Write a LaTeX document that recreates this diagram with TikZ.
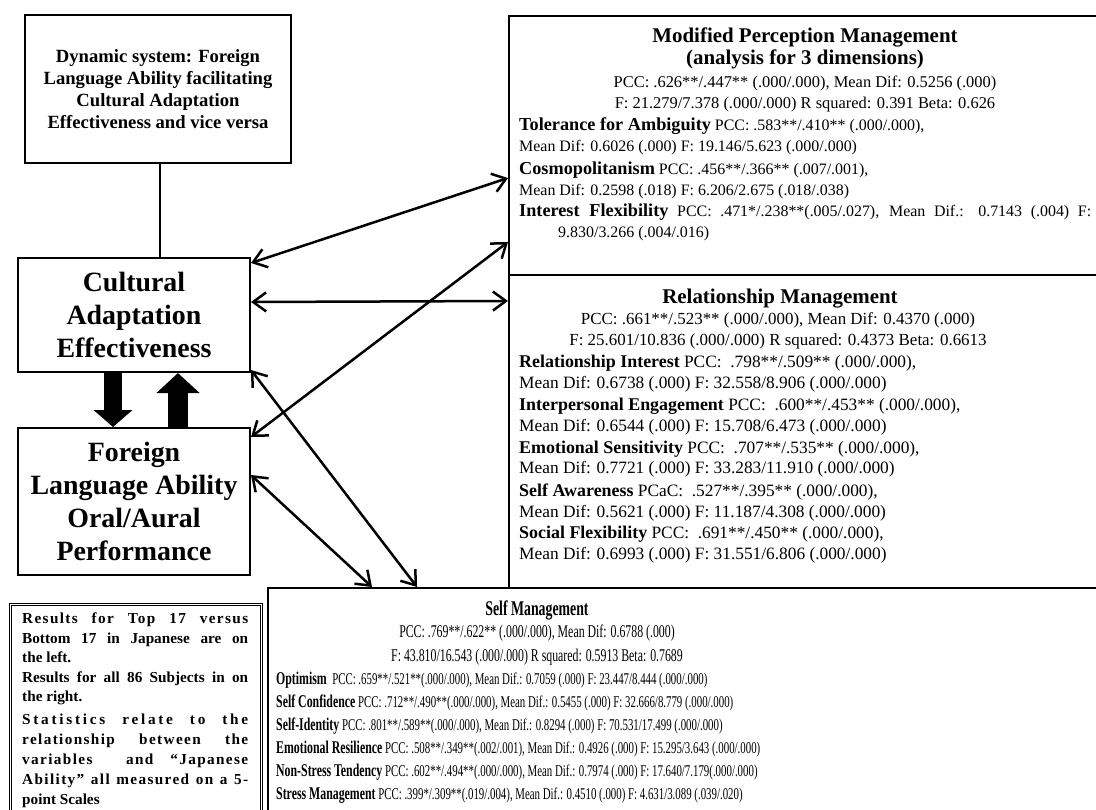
\documentclass[tikz,border=0pt]{standalone}
\usepackage{fontspec}
\setmainfont{Liberation Serif}
\newfontfamily\condfont[FakeStretch=0.66]{Liberation Serif}
\newfontfamily\lsA[LetterSpace=18]{Liberation Serif}
\newfontfamily\lsB[LetterSpace=9]{Liberation Serif}
\usetikzlibrary{arrows.meta,calc}
\newcommand\fsz[2]{\fontsize{#1}{#2}\selectfont}
\newcommand\mlbl[1]{{\fsz{18.3}{20}\bfseries #1}}
\newcommand\rlbl[1]{{\fsz{18}{21}\bfseries #1}}
\newcommand\slbl[1]{{\fsz{18}{20}\bfseries #1}}
\tikzset{
  box/.style={draw, line width=2bp, inner sep=0pt},
  ln/.style={anchor=base west, inner sep=0pt},
  lc/.style={anchor=base, inner sep=0pt},
  biarrow/.style={line width=2.5bp, {Straight Barb[length=13bp,width=19bp]}-{Straight Barb[length=13bp,width=19bp]}},
  mtxt/.style={ln, font=\fsz{16}{19}},
  rtxt/.style={ln, font=\fsz{17.4}{20}},
  stxt/.style={ln, font=\fsz{16.5}{20}\condfont},
  btxt/.style={ln, font=\fsz{15.3}{18}\bfseries},
}
\begin{document}
\begin{tikzpicture}[x=1bp,y=-1bp]
\useasboundingbox (0,0) rectangle (1096,810);
% ---------------- left boxes
\node[box, anchor=north west, minimum width=266bp, minimum height=148bp, align=center,
      font=\fsz{18.7}{22}\bfseries] (dyn) at (24,14)
  {Dynamic system: Foreign\\Language Ability facilitating\\Cultural Adaptation\\Effectiveness and vice versa};
\node[box, anchor=north west, minimum width=232bp, minimum height=114bp, align=center,
      font=\fsz{28}{33}\bfseries] (cae) at (17,257)
  {Cultural\\Adaptation\\Effectiveness};
\node[box, anchor=north west, minimum width=232bp, minimum height=147bp, align=center,
      font=\fsz{28}{33}\bfseries] (fla) at (17,427)
  {Foreign\\Language Ability\\Oral/Aural\\Performance};
\node[draw, double, line width=0.9bp, double distance=1.2bp, inner sep=0pt, anchor=north west,
      minimum width=251bp, minimum height=230bp] (note) at (10,604) {};
% ---------------- right boxes
\node[box, anchor=north west, minimum width=620bp, minimum height=259bp] (mpm) at (508,15) {};
\node[box, anchor=north west, minimum width=620bp, minimum height=313bp] (rm) at (508,274) {};
\node[box, anchor=north west, minimum width=860bp, minimum height=240bp] (sm) at (267,587) {};
% ---------------- connectors
\draw[line width=2bp] ([xshift=2bp]dyn.south) -- ([xshift=2bp]dyn.south |- cae.north);
\draw[line width=18bp, -{Triangle[width=38bp,length=17bp]}] ([xshift=96bp]cae.south west) -- ([xshift=96bp]fla.north west);
\draw[line width=20bp, -{Triangle[width=42bp,length=20bp]}] ([xshift=161bp]fla.north west) -- ([xshift=161bp]cae.south west);
\draw[biarrow] ([yshift=-6bp]cae.north east) -- ([yshift=-163bp]mpm.north west);
\draw[biarrow] ([yshift=13bp]cae.east) -- ([yshift=-27bp]rm.north west);
\draw[biarrow] ([yshift=-10bp]fla.north east) -- ([yshift=34bp]mpm.south west);
\draw[biarrow] ([yshift=3bp]cae.south east) -- ([xshift=150bp]sm.north west);
\draw[biarrow] ([yshift=-48bp]fla.north east) -- ([xshift=105bp]sm.north west);
% ---------------- MPM text
\node[lc, font=\fsz{21}{24}\bfseries] (m1) at (805,43) {Modified Perception Management};
\node[lc, font=\fsz{21}{24}\bfseries] (m2) at (805,65) {(analysis for 3 dimensions)};
\node[lc, font=\fsz{16.5}{19}] (m3) at (805,88) {PCC: .626**/.447** (.000/.000), Mean Dif: 0.5256 (.000)};
\node[lc, font=\fsz{16.5}{19}] (m4) at (805,109) {F: 21.279/7.378 (.000/.000) R squared: 0.391 Beta: 0.626};
\node[mtxt] (m5) at (519,130) {\mlbl{Tolerance for Ambiguity} PCC: .583**/.410** (.000/.000),};
\node[mtxt] (m6) at (519,151) {Mean Dif: 0.6026 (.000) F: 19.146/5.623 (.000/.000)};
\node[mtxt] (m7) at (519,174) {\mlbl{Cosmopolitanism} PCC: .456**/.366** (.007/.001),};
\node[mtxt] (m8) at (519,195) {Mean Dif: 0.2598 (.018) F: 6.206/2.675 (.018/.038)};
\node[mtxt] (m9) at (519,216) {\makebox[572bp][s]{\mlbl{Interest Flexibility} PCC: .471*/.238**(.005/.027), Mean Dif.: 0.7143 (.004) F:}};
\node[mtxt] (m10) at (558,237) {9.830/3.266 (.004/.016)};
% ---------------- RM text
\node[lc, font=\fsz{21}{24}\bfseries] (r1) at (780,303) {Relationship Management};
\node[lc, font=\fsz{17}{20}] (r2) at (778,324) {PCC: .661**/.523** (.000/.000), Mean Dif: 0.4370 (.000)};
\node[lc, font=\fsz{17}{20}] (r3) at (778,345) {F: 25.601/10.836 (.000/.000) R squared: 0.4373 Beta: 0.6613};
\node[rtxt] (r4) at (519,367) {\rlbl{Relationship Interest} PCC:\ \ .798**/.509** (.000/.000),};
\node[rtxt] (r5) at (519,388) {Mean Dif: 0.6738 (.000) F: 32.558/8.906 (.000/.000)};
\node[rtxt] (r6) at (519,410) {\rlbl{Interpersonal Engagement} PCC:\ \ .600**/.453** (.000/.000),};
\node[rtxt] (r7) at (519,431) {Mean Dif: 0.6544 (.000) F: 15.708/6.473 (.000/.000)};
\node[rtxt] (r8) at (519,453) {\rlbl{Emotional Sensitivity} PCC:\ \ .707**/.535** (.000/.000),};
\node[rtxt] (r9) at (519,473) {Mean Dif: 0.7721 (.000) F: 33.283/11.910 (.000/.000)};
\node[rtxt] (r10) at (519,496) {\rlbl{Self Awareness} PCaC:\ \ .527**/.395** (.000/.000),};
\node[rtxt] (r11) at (519,517) {Mean Dif: 0.5621 (.000) F: 11.187/4.308 (.000/.000)};
\node[rtxt] (r12) at (519,538) {\rlbl{Social Flexibility} PCC:\ \ .691**/.450** (.000/.000),};
\node[rtxt] (r13) at (519,559) {Mean Dif: 0.6993 (.000) F: 31.551/6.806 (.000/.000)};
% ---------------- SM text
\node[lc, font=\fsz{21}{24}\condfont\bfseries] (s1) at (537,615) {Self Management};
\node[lc, font=\fsz{18}{21}\condfont] (s2) at (537,637) {PCC: .769**/.622** (.000/.000), Mean Dif: 0.6788 (.000)};
\node[lc, font=\fsz{18}{21}\condfont] (s3) at (537,661) {F: 43.810/16.543 (.000/.000) R squared: 0.5913 Beta: 0.7689};
\node[stxt] (s4) at (276,684) {\slbl{Optimism}\ \ PCC: .659**/.521**(.000/.000), Mean Dif.: 0.7059 (.000) F: 23.447/8.444 (.000/.000)};
\node[stxt] (s5) at (276,707) {\slbl{Self Confidence} PCC: .712**/.490**(.000/.000), Mean Dif.: 0.5455 (.000) F: 32.666/8.779 (.000/.000)};
\node[stxt] (s6) at (276,730) {\slbl{Self-Identity} PCC: .801**/.589**(.000/.000), Mean Dif.: 0.8294 (.000) F: 70.531/17.499 (.000/.000)};
\node[stxt] (s7) at (276,753) {\slbl{Emotional Resilience} PCC: .508**/.349**(.002/.001), Mean Dif.: 0.4926 (.000) F: 15.295/3.643 (.000/.000)};
\node[stxt] (s8) at (276,776) {\slbl{Non-Stress Tendency} PCC: .602**/.494**(.000/.000), Mean Dif.: 0.7974 (.000) F: 17.640/7.179(.000/.000)};
\node[stxt] (s9) at (276,799) {\slbl{Stress Management} PCC: .399*/.309**(.019/.004), Mean Dif.: 0.4510 (.000) F: 4.631/3.089 (.039/.020)};
% ---------------- note text
\node[btxt] (n1) at (22,623) {\makebox[226bp][s]{\lsB Results for Top 17 versus}};
\node[btxt] (n2) at (22,643) {\makebox[226bp][s]{Bottom 17 in Japanese are on}};
\node[btxt] (n3) at (22,662) {the left.};
\node[btxt] (n4) at (22,682) {\makebox[226bp][s]{Results for all 86 Subjects in on}};
\node[btxt] (n5) at (22,701) {the right.};
\node[btxt] (n6) at (22,724) {\makebox[226bp][s]{\lsA Statistics relate to the}};
\node[btxt] (n7) at (22,744) {\makebox[226bp][s]{\lsB relationship between the}};
\node[btxt] (n8) at (22,764) {\makebox[226bp][s]{\lsB variables\ \ and “Japanese}};
\node[btxt] (n9) at (22,784) {\makebox[226bp][s]{\lsB Ability” all measured on a 5-}};
\node[btxt] (n10) at (22,804) {point Scales};
\end{tikzpicture}
\end{document}
